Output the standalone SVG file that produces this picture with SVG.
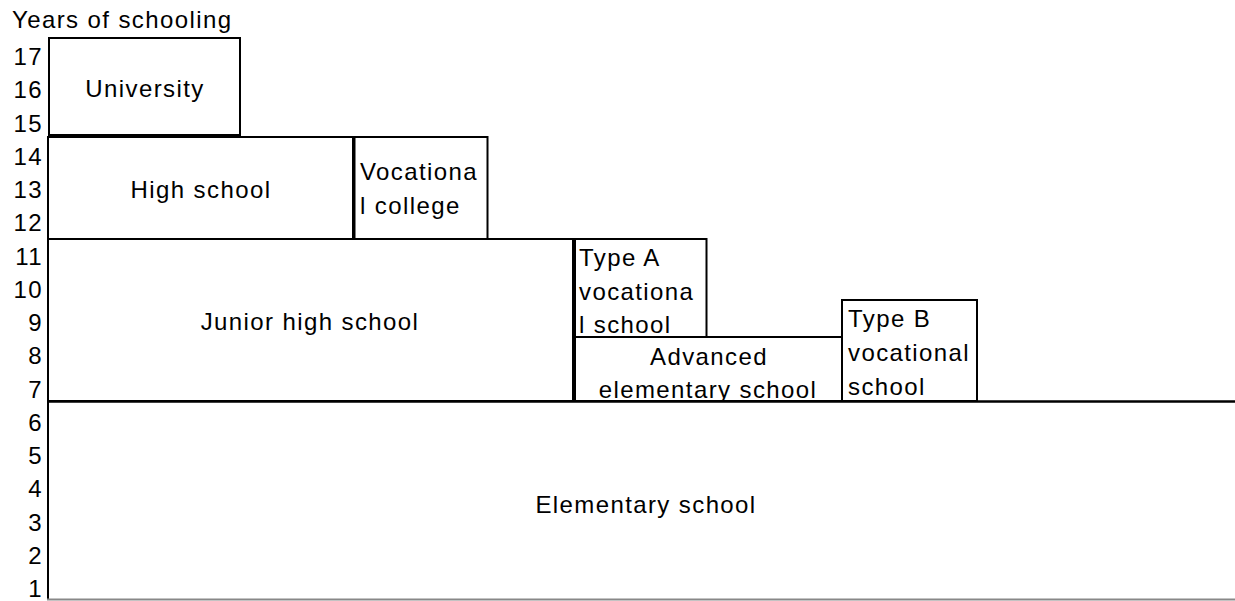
<svg xmlns="http://www.w3.org/2000/svg" width="1235" height="601" viewBox="0 0 1235 601">
  <style>
    text { font-family: "Liberation Sans", Arial, sans-serif; font-size: 24px; letter-spacing: 1.4px; fill: #000; }
    .box { fill: #fff; stroke: #000; stroke-width: 2; }
    .num { text-anchor: end; }
    .mid { text-anchor: middle; }
  </style>
  <defs>
    <clipPath id="clipAdv"><rect x="575" y="337" width="267" height="63"/></clipPath>
    <clipPath id="clipTA"><rect x="575" y="239" width="131.5" height="98"/></clipPath>
  </defs>
  <rect width="1235" height="601" fill="#fff"/>

  <g id="axis-labels">
    <text x="12" y="28">Years of schooling</text>
    <text class="num" x="43" y="65">17</text>
    <text class="num" x="43" y="98">16</text>
    <text class="num" x="43" y="131.5">15</text>
    <text class="num" x="43" y="164.75">14</text>
    <text class="num" x="43" y="198">13</text>
    <text class="num" x="43" y="231.25">12</text>
    <text class="num" x="43" y="264.5">11</text>
    <text class="num" x="43" y="297.75">10</text>
    <text class="num" x="43" y="331">9</text>
    <text class="num" x="43" y="364.25">8</text>
    <text class="num" x="43" y="397.5">7</text>
    <text class="num" x="43" y="430.75">6</text>
    <text class="num" x="43" y="464">5</text>
    <text class="num" x="43" y="497.25">4</text>
    <text class="num" x="43" y="530.5">3</text>
    <text class="num" x="43" y="563.75">2</text>
    <text class="num" x="43" y="597">1</text>
  </g>

  <g id="elementary-school">
    <line x1="48" y1="401" x2="48" y2="600" stroke="#000" stroke-width="2"/>
    <line x1="47" y1="599.5" x2="1235" y2="599.5" stroke="#888" stroke-width="2"/>
    <text class="mid" x="646" y="513">Elementary school</text>
  </g>

  <g id="university">
    <rect class="box" x="49" y="38" width="191" height="97"/>
    <text class="mid" x="145" y="97">University</text>
  </g>

  <g id="high-school">
    <rect class="box" x="48" y="137" width="305" height="102"/>
    <text class="mid" x="201" y="198">High school</text>
  </g>

  <g id="vocational-college">
    <rect class="box" x="354.5" y="137" width="133" height="102"/>
    <text x="360" y="180">Vocationa</text>
    <text x="360" y="214">l college</text>
  </g>

  <g id="junior-high-school">
    <rect class="box" x="48" y="239" width="525" height="162"/>
    <text class="mid" x="310" y="330">Junior high school</text>
  </g>

  <g id="type-a-vocational-school">
    <rect class="box" x="575" y="239" width="131.5" height="98"/>
    <g clip-path="url(#clipTA)">
      <text x="579" y="266">Type A</text>
      <text x="579" y="300">vocationa</text>
      <text x="579" y="333">l school</text>
    </g>
  </g>

  <g id="advanced-elementary-school">
    <rect class="box" x="575" y="337" width="267" height="64"/>
    <g clip-path="url(#clipAdv)">
      <text class="mid" x="709" y="365">Advanced</text>
      <text class="mid" x="708" y="398">elementary school</text>
    </g>
  </g>

  <g id="type-b-vocational-school">
    <rect class="box" x="842" y="300" width="135" height="101"/>
    <text x="848" y="327">Type B</text>
    <text x="848" y="361">vocational</text>
    <text x="848" y="395">school</text>
  </g>

  <g id="connectors">
    <line x1="47" y1="401.5" x2="1235" y2="401.5" stroke="#000" stroke-width="2.5"/>
  </g>
</svg>
